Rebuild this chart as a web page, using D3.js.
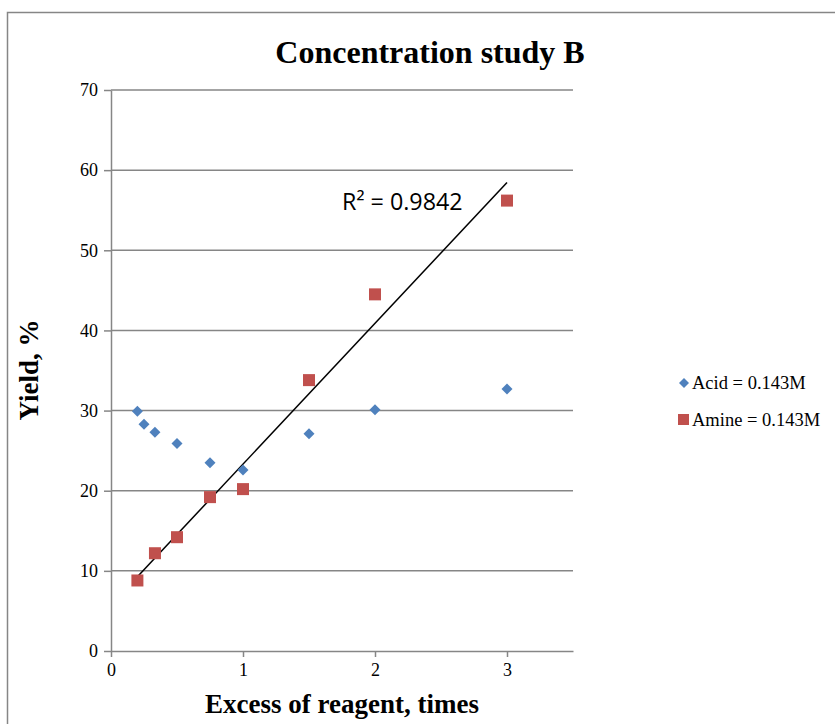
<!DOCTYPE html>
<html><head><meta charset="utf-8">
<script src="https://cdn.jsdelivr.net/npm/d3@7"></script>
<style>body{margin:0;background:#fff}svg{display:block}
.tl{font-family:'Liberation Serif','Times New Roman',serif;font-size:18px;fill:#000}</style>
</head><body>
<script>
const xTicks = [0, 1, 2, 3];
const yTicks = [0, 10, 20, 30, 40, 50, 60, 70];
const acidX = [0.2, 0.25, 0.333, 0.5, 0.75, 1, 1.5, 2, 3];
const acidY = [29.9, 28.3, 27.3, 25.9, 23.5, 22.6, 27.1, 30.1, 32.7];
const amineX = [0.2, 0.333, 0.5, 0.75, 1, 1.5, 2, 3];
const amineY = [8.8, 12.2, 14.2, 19.2, 20.2, 33.8, 44.5, 56.2];
const seriesNames = ["Acid = 0.143M", "Amine = 0.143M"];
const r2Label = "R\u00B2 = 0.9842";

const W = 835, H = 724;
const svg = d3.select("body").append("svg").attr("width", W).attr("height", H);
svg.append("rect").attr("x", 7.5).attr("y", 12.5).attr("width", 900).attr("height", 800)
  .attr("fill", "#fff").attr("stroke", "#868686").attr("stroke-width", 1.5);

const x = d3.scaleLinear().domain([0, 3.5]).range([111, 573]);
const y = d3.scaleLinear().domain([0, 70]).range([651, 90]);
const serif = "'Liberation Serif','Times New Roman',serif";

// gridlines
svg.append("g").selectAll("line").data(yTicks.filter(d => d > 0)).join("line")
  .attr("x1", x(0)).attr("x2", x(3.5)).attr("y1", d => y(d)).attr("y2", d => y(d))
  .attr("stroke", "#868686").attr("stroke-width", 1.5);

// axes: domain lines, tick marks and labels
const styleAxis = g => {
  g.attr("font-family", serif).attr("font-size", 18);
  g.select(".domain").attr("stroke", "#868686").attr("stroke-width", 1.5);
  g.selectAll(".tick line").attr("stroke", "#868686").attr("stroke-width", 1.5);
  g.selectAll(".tick text").attr("class", "tl").attr("fill", "#000");
};
svg.append("g").attr("transform", `translate(${x(0)},0)`)
  .call(d3.axisLeft(y).tickValues(yTicks).tickFormat(d3.format("d")).tickSize(7).tickSizeOuter(0).tickPadding(6))
  .call(styleAxis);
svg.append("g").attr("transform", `translate(0,${y(0)})`)
  .call(d3.axisBottom(x).tickValues(xTicks).tickFormat(d3.format("d")).tickSize(6).tickSizeOuter(0).tickPadding(6))
  .call(styleAxis);

// trendline (linear regression of amine series)
const mx = d3.mean(amineX), my = d3.mean(amineY);
const sxy = d3.sum(amineX.map((v, i) => (v - mx) * (amineY[i] - my)));
const sxx = d3.sum(amineX.map(v => (v - mx) ** 2));
const slope = sxy / sxx, icpt = my - slope * mx;
const x0 = d3.min(amineX), x1 = d3.max(amineX);
svg.append("line").attr("x1", x(x0)).attr("y1", y(icpt + slope * x0))
  .attr("x2", x(x1)).attr("y2", y(icpt + slope * x1))
  .attr("stroke", "#000").attr("stroke-width", 1.5);

// points
const diamond = s => `M0,${-s}L${s},0L0,${s}L${-s},0Z`;
svg.append("g").selectAll("path").data(acidX.map((v, i) => [v, acidY[i]])).join("path")
  .attr("transform", d => `translate(${x(d[0])},${y(d[1])})`)
  .attr("d", diamond(5.5)).attr("fill", "#4F81BD");
svg.append("g").selectAll("rect").data(amineX.map((v, i) => [v, amineY[i]])).join("rect")
  .attr("x", d => x(d[0]) - 6).attr("y", d => y(d[1]) - 6)
  .attr("width", 12).attr("height", 12).attr("fill", "#C0504D");

// R² label
svg.append("text").attr("x", 342).attr("y", 210).text(r2Label)
  .attr("font-family", "'Open Sans','Liberation Sans',sans-serif").attr("font-size", 23.3).attr("fill", "#000");

// title
svg.append("text").attr("x", 430).attr("y", 63).attr("text-anchor", "middle")
  .attr("font-family", serif).attr("font-weight", "bold").attr("font-size", 32).text("Concentration study B");
// axis titles
svg.append("text").attr("x", 342).attr("y", 713).attr("text-anchor", "middle")
  .attr("font-family", serif).attr("font-weight", "bold").attr("font-size", 27).text("Excess of reagent, times");
svg.append("text").attr("transform", "translate(38,370) rotate(-90)").attr("text-anchor", "middle")
  .attr("font-family", serif).attr("font-weight", "bold").attr("font-size", 27).text("Yield, %");

// legend
const lg = svg.append("g");
lg.append("path").attr("transform", "translate(684,383)").attr("d", diamond(5)).attr("fill", "#4F81BD");
lg.append("rect").attr("x", 678).attr("y", 414).attr("width", 11).attr("height", 11).attr("fill", "#C0504D");
lg.selectAll("text").data(seriesNames).join("text")
  .attr("x", 692).attr("y", (d, i) => 389 + i * 37).text(d => d)
  .attr("font-family", serif).attr("font-size", 18.5).attr("fill", "#000");
</script>
</body></html>
